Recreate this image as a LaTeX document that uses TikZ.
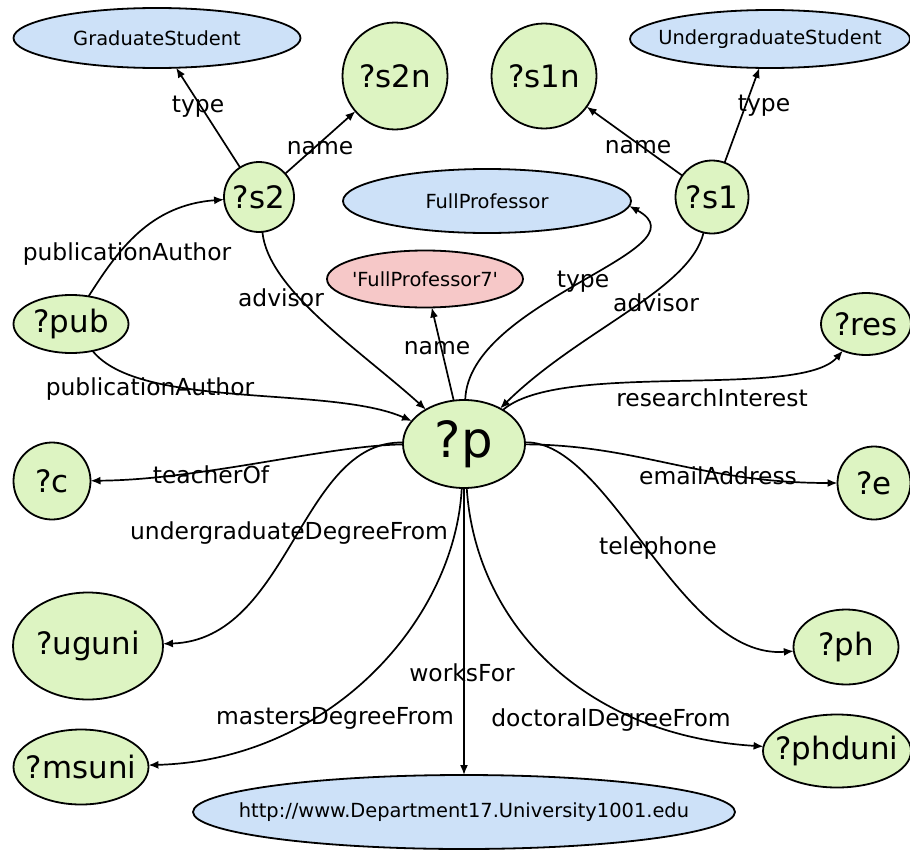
\documentclass[tikz,border=0pt]{standalone}
\usepackage{fontspec}
\setmainfont{DejaVu Sans}
\newfontfamily\rawfont{DejaVu Sans}[Ligatures=TeXOff]
\usetikzlibrary{shapes.geometric,arrows.meta}

\definecolor{varfill}{HTML}{DDF4C2}
\definecolor{classfill}{HTML}{CDE1F8}
\definecolor{litfill}{HTML}{F6C8C8}

\newcommand{\ztext}[1]{\makebox[0pt]{#1}}

\tikzset{
  base/.style={ellipse, draw=black, line width=1.8bp, inner sep=0pt, outer sep=0pt},
  var/.style={base, fill=varfill, font=\fontsize{31}{36}\selectfont},
  bigvar/.style={base, fill=varfill, font=\fontsize{50}{58}\selectfont},
  cls/.style={base, fill=classfill, font=\fontsize{19.5}{23}\selectfont},
  lit/.style={base, fill=litfill, font=\rawfont\fontsize{19.5}{23}\selectfont},
  lbl/.style={inner sep=0pt, font=\fontsize{23.5}{27}\selectfont},
  edge/.style={line width=1.7bp, -{Latex[length=10bp,width=8bp]}},
}

\begin{document}
\begin{tikzpicture}[x=1bp,y=-1bp]
\useasboundingbox (0,0) rectangle (910,851);

% resource and variable nodes
\node[cls, minimum width=287bp, minimum height=60bp] (gs) at (157,38) {\ztext{GraduateStudent}};
\node[var, minimum width=105bp, minimum height=107bp] (s2n) at (395,76) {\ztext{?s2n}};
\node[var, minimum width=105bp, minimum height=105bp] (s1n) at (544,76) {\ztext{?s1n}};
\node[cls, minimum width=280bp, minimum height=58bp] (us) at (770,39) {\ztext{UndergraduateStudent}};
\node[var, minimum width=70bp, minimum height=70bp] (s2) at (259,197) {\ztext{?s2}};
\node[var, minimum width=73bp, minimum height=73bp] (s1) at (712,197) {\ztext{?s1}};
\node[cls, minimum width=288bp, minimum height=64bp] (fp) at (487,201) {\ztext{FullProfessor}};
\node[lit, minimum width=196bp, minimum height=57bp] (fp7) at (425,279) {\ztext{'FullProfessor7'}};
\node[var, minimum width=115bp, minimum height=58bp] (pub) at (71,324) {\ztext{?pub}};
\node[var, minimum width=90bp, minimum height=62bp] (res) at (866,324) {\ztext{?res}};
\node[bigvar, minimum width=122bp, minimum height=88bp] (p) at (464,444) {\ztext{?p}};
\node[var, minimum width=77bp, minimum height=77bp] (c) at (52,481) {\ztext{?c}};
\node[var, minimum width=73bp, minimum height=73bp] (e) at (874,483) {\ztext{?e}};
\node[var, minimum width=150bp, minimum height=107bp] (uguni) at (88,646) {\ztext{?uguni}};
\node[var, minimum width=105bp, minimum height=75bp] (ph) at (846,647) {\ztext{?ph}};
\node[var, minimum width=135bp, minimum height=75bp] (msuni) at (81,767) {\ztext{?msuni}};
\node[var, minimum width=148bp, minimum height=73bp] (phduni) at (837,751) {\ztext{?phduni}};
\node[cls, minimum width=542bp, minimum height=74bp] (dept) at (464,812) {\ztext{http://www.Department17.University1001.edu}};

% property edges
\draw[edge] (s2) -- (gs);
\draw[edge] (s2) -- (s2n);
\draw[edge] (s1) -- (s1n);
\draw[edge] (s1) -- (us);
\draw[edge] (pub) .. controls (118,250) and (150,205) .. (s2);
\draw[edge] (pub) .. controls (140,410) and (330,385) .. (p);
\draw[edge] (s2) .. controls (268,290) and (360,350) .. (p);
\draw[edge] (p) -- (fp7);
\draw[edge] (p) .. controls (468,300) and (710,250) .. (fp.-2);
\draw[edge] (s1) .. controls (690,290) and (580,330) .. (p);
\draw[edge] (p) .. controls (560,360) and (800,400) .. (res);
\draw[edge] (p) .. controls (330,445) and (200,480) .. (c);
\draw[edge] (p) .. controls (640,445) and (700,483) .. (e);
\draw[edge] (p) .. controls (300,440) and (290,640) .. (uguni);
\draw[edge] (p) .. controls (610,440) and (680,660) .. (ph);
\draw[edge] (p) -- (dept);
\draw[edge] (p) .. controls (455,620) and (330,760) .. (msuni);
\draw[edge] (p) .. controls (475,620) and (580,735) .. (phduni);

% edge labels
\node[lbl] (l-type1) at (198,107) {type};
\node[lbl] (l-name1) at (320,148) {name};
\node[lbl] (l-name2) at (638,147) {name};
\node[lbl] (l-type2) at (764,106) {type};
\node[lbl] (l-pa1) at (127,254) {publicationAuthor};
\node[lbl] (l-adv1) at (281,298) {advisor};
\node[lbl] (l-pa2) at (150,389) {publicationAuthor};
\node[lbl] (l-name3) at (437,348) {name};
\node[lbl] (l-type3) at (583,282) {type};
\node[lbl] (l-adv2) at (656,303) {advisor};
\node[lbl] (l-ri) at (712,398) {researchInterest};
\node[lbl] (l-teach) at (211,475) {teacherOf};
\node[lbl] (l-ugd) at (289,533) {undergraduateDegreeFrom};
\node[lbl] (l-ms) at (335,718) {mastersDegreeFrom};
\node[lbl] (l-works) at (462,673) {worksFor};
\node[lbl] (l-doc) at (611,720) {doctoralDegreeFrom};
\node[lbl] (l-email) at (718,476) {emailAddress};
\node[lbl] (l-tel) at (658,548) {telephone};
\end{tikzpicture}
\end{document}
